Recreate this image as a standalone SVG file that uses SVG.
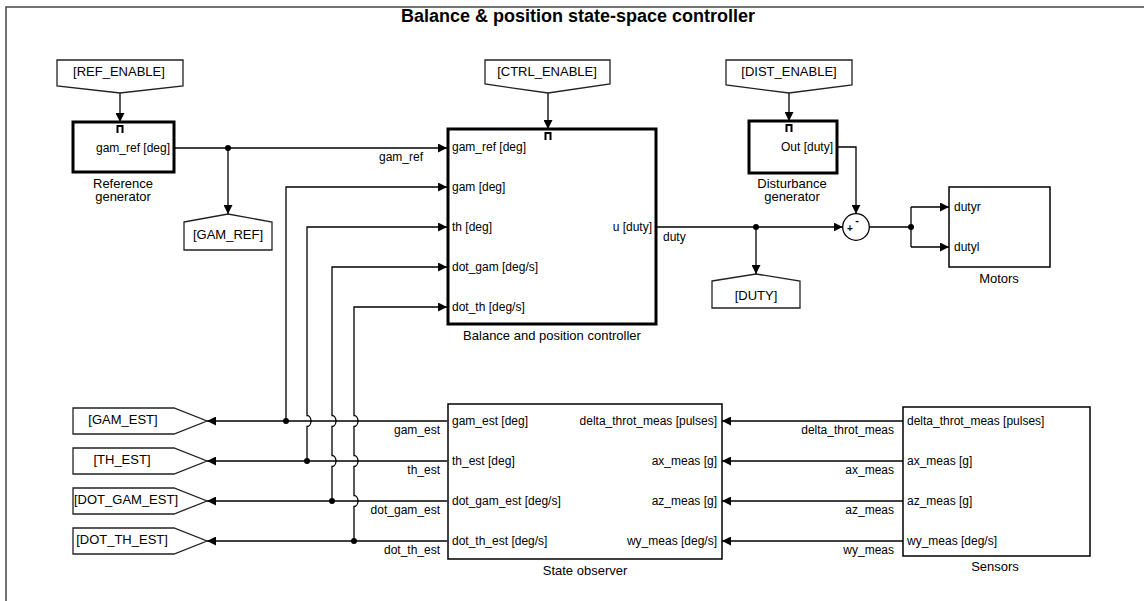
<svg xmlns="http://www.w3.org/2000/svg" width="1144" height="601" viewBox="0 0 1144 601">
<defs>
<style>
text{font-family:"Liberation Sans",Arial,Helvetica,sans-serif;fill:#000}
.title{font-size:18px;font-weight:bold}
.port{font-size:12px}
.sig{font-size:12px}
.name{font-size:13px}
.tag{font-size:13px}
.blk{fill:#fff;stroke:#000;stroke-width:1.5}
.thick{fill:#fff;stroke:#000;stroke-width:3}
.tg{fill:#fff;stroke:#222;stroke-width:1.3}
.en{fill:none;stroke:#000;stroke-width:2}
.w{fill:none;stroke:#000;stroke-width:1.3}
.a{marker-end:url(#arr)}
.dot{fill:#000}
</style>
<marker id="arr" viewBox="0 0 10 10" refX="10" refY="5" markerWidth="9" markerHeight="9" markerUnits="userSpaceOnUse" orient="auto">
<path d="M0,0 L10,5 L0,10 z" fill="#000"/>
</marker>
</defs>
<rect width="1144" height="601" fill="#fff"/>
<path d="M6,601 V7 H1144" fill="none" stroke="#444" stroke-width="1.5"/>
<text class="title" x="578" y="22" text-anchor="middle">Balance &amp; position state-space controller</text>

<g id="connectors">
<path class="w a" d="M120,93 V122"/>
<path class="w a" d="M174,148 H447"/>
<path class="w a" d="M228,148 V214"/>
<path class="w a" d="M548,93 V129"/>
<path class="w a" d="M789,93 V121"/>
<path class="w a" d="M837,147 H856 V213.7"/>
<path class="w a" d="M656,227 H842.7"/>
<path class="w a" d="M756,227 V274"/>
<path class="w" d="M869.3,227 H911 M911,207 V247"/>
<path class="w a" d="M911,207 H949"/>
<path class="w a" d="M911,247 H949"/>
<path class="w a" d="M903,421 H722"/>
<path class="w a" d="M903,461 H722"/>
<path class="w a" d="M903,501 H722"/>
<path class="w a" d="M903,541 H722"/>
<path class="w a" d="M447,421 H207"/>
<path class="w a" d="M447,461 H207"/>
<path class="w a" d="M447,501 H207"/>
<path class="w a" d="M447,541 H207"/>
<path class="w a" d="M286,421 V187 H447"/>
<path class="w a" d="M307,461 V426.5 A4,5.5 0 0 0 307,415.5 V227 H447"/>
<path class="w a" d="M332,501 V466.5 A4,5.5 0 0 0 332,455.5 V426.5 A4,5.5 0 0 0 332,415.5 V267 H447"/>
<path class="w a" d="M354,541 V506.5 A4,5.5 0 0 0 354,495.5 V466.5 A4,5.5 0 0 0 354,455.5 V426.5 A4,5.5 0 0 0 354,415.5 V307 H447"/>
<circle class="dot" cx="228" cy="148" r="3"/>
<circle class="dot" cx="756" cy="227" r="3"/>
<circle class="dot" cx="911" cy="227" r="3"/>
<circle class="dot" cx="286" cy="421" r="3"/>
<circle class="dot" cx="307" cy="461" r="3"/>
<circle class="dot" cx="332" cy="501" r="3"/>
<circle class="dot" cx="354" cy="541" r="3"/>
<text class="sig" x="423" y="161" text-anchor="end">gam_ref</text>
<text class="sig" x="663" y="241">duty</text>
<text class="sig" x="894" y="434" text-anchor="end">delta_throt_meas</text>
<text class="sig" x="894" y="474" text-anchor="end">ax_meas</text>
<text class="sig" x="894" y="514" text-anchor="end">az_meas</text>
<text class="sig" x="894" y="554" text-anchor="end">wy_meas</text>
<text class="sig" x="440" y="434" text-anchor="end">gam_est</text>
<text class="sig" x="440" y="474" text-anchor="end">th_est</text>
<text class="sig" x="440" y="514" text-anchor="end">dot_gam_est</text>
<text class="sig" x="440" y="554" text-anchor="end">dot_th_est</text>
</g>

<g id="ref_enable">
<path class="tg" d="M57,60 H183 V86 L120,93 L57,86 Z"/>
<text class="tag" x="119" y="76" text-anchor="middle">[REF_ENABLE]</text>
</g>
<g id="reference_generator">
<rect class="thick" x="73" y="122" width="101" height="50"/>
<path class="en" d="M117.5,133 V126 H122.5 V133"/>
<text class="port" x="170" y="152" text-anchor="end">gam_ref [deg]</text>
<text class="name" x="123" y="188" text-anchor="middle">Reference</text>
<text class="name" x="123" y="201" text-anchor="middle">generator</text>
</g>
<g id="gam_ref_tag">
<path class="tg" d="M184,222 L228,214 L272,222 V250 H184 Z"/>
<text class="tag" x="228" y="239" text-anchor="middle">[GAM_REF]</text>
</g>

<g id="ctrl_enable">
<path class="tg" d="M485,60 H610 V84 L548,93 L485,84 Z"/>
<text class="tag" x="547" y="76" text-anchor="middle">[CTRL_ENABLE]</text>
</g>
<g id="controller">
<rect class="thick" x="448" y="129" width="208" height="195"/>
<path class="en" d="M545.5,140 V133 H550.5 V140"/>
<text class="port" x="452" y="151">gam_ref [deg]</text>
<text class="port" x="452" y="191">gam [deg]</text>
<text class="port" x="452" y="231">th [deg]</text>
<text class="port" x="452" y="271">dot_gam [deg/s]</text>
<text class="port" x="452" y="311">dot_th [deg/s]</text>
<text class="port" x="652" y="231" text-anchor="end">u [duty]</text>
<text class="name" x="552" y="340" text-anchor="middle">Balance and position controller</text>
</g>

<g id="dist_enable">
<path class="tg" d="M726,60 H852 V85 L789,93 L726,85 Z"/>
<text class="tag" x="789" y="76" text-anchor="middle">[DIST_ENABLE]</text>
</g>
<g id="disturbance_generator">
<rect class="thick" x="749" y="121" width="88" height="52"/>
<path class="en" d="M786.5,132 V125 H791.5 V132"/>
<text class="port" x="833" y="151" text-anchor="end">Out [duty]</text>
<text class="name" x="792" y="187.5" text-anchor="middle">Disturbance</text>
<text class="name" x="792" y="200.5" text-anchor="middle">generator</text>
</g>

<g id="duty_tag">
<path class="tg" d="M712,281 L756,274 L800,281 V308 H712 Z"/>
<text class="tag" x="756" y="300" text-anchor="middle">[DUTY]</text>
</g>

<g id="sum">
<circle cx="856" cy="227" r="13.3" fill="#fff" stroke="#000" stroke-width="1.3"/>
<text x="850" y="232" font-size="10" font-weight="bold" text-anchor="middle">+</text>
<text x="857" y="223.5" font-size="11" font-weight="bold" text-anchor="middle">-</text>
</g>

<g id="motors">
<rect class="blk" x="949" y="187" width="101" height="80"/>
<text class="port" x="954" y="211">dutyr</text>
<text class="port" x="954" y="251">dutyl</text>
<text class="name" x="999" y="283" text-anchor="middle">Motors</text>
</g>

<g id="state_observer">
<rect class="blk" x="448" y="404" width="274" height="155"/>
<text class="port" x="452" y="425">gam_est [deg]</text>
<text class="port" x="452" y="465">th_est [deg]</text>
<text class="port" x="452" y="505">dot_gam_est [deg/s]</text>
<text class="port" x="452" y="545">dot_th_est [deg/s]</text>
<text class="port" x="717" y="425" text-anchor="end">delta_throt_meas [pulses]</text>
<text class="port" x="717" y="465" text-anchor="end">ax_meas [g]</text>
<text class="port" x="717" y="505" text-anchor="end">az_meas [g]</text>
<text class="port" x="717" y="545" text-anchor="end">wy_meas [deg/s]</text>
<text class="name" x="585" y="575" text-anchor="middle">State observer</text>
</g>

<g id="sensors">
<rect class="blk" x="903" y="407" width="187" height="149"/>
<text class="port" x="907" y="425">delta_throt_meas [pulses]</text>
<text class="port" x="907" y="465">ax_meas [g]</text>
<text class="port" x="907" y="505">az_meas [g]</text>
<text class="port" x="907" y="545">wy_meas [deg/s]</text>
<text class="name" x="995" y="571" text-anchor="middle">Sensors</text>
</g>

<g id="gam_est_tag">
<path class="tg" d="M73,408 H174 L207,421 L174,434 H73 Z"/>
<text class="tag" x="123" y="424" text-anchor="middle">[GAM_EST]</text>
</g>
<g id="th_est_tag">
<path class="tg" d="M73,448 H174 L207,461 L174,474 H73 Z"/>
<text class="tag" x="122" y="464" text-anchor="middle">[TH_EST]</text>
</g>
<g id="dot_gam_est_tag">
<path class="tg" d="M73,488 H174 L207,501 L174,514 H73 Z"/>
<text class="tag" x="126" y="504" text-anchor="middle">[DOT_GAM_EST]</text>
</g>
<g id="dot_th_est_tag">
<path class="tg" d="M73,528 H174 L207,541 L174,554 H73 Z"/>
<text class="tag" x="122" y="544" text-anchor="middle">[DOT_TH_EST]</text>
</g>
</svg>
